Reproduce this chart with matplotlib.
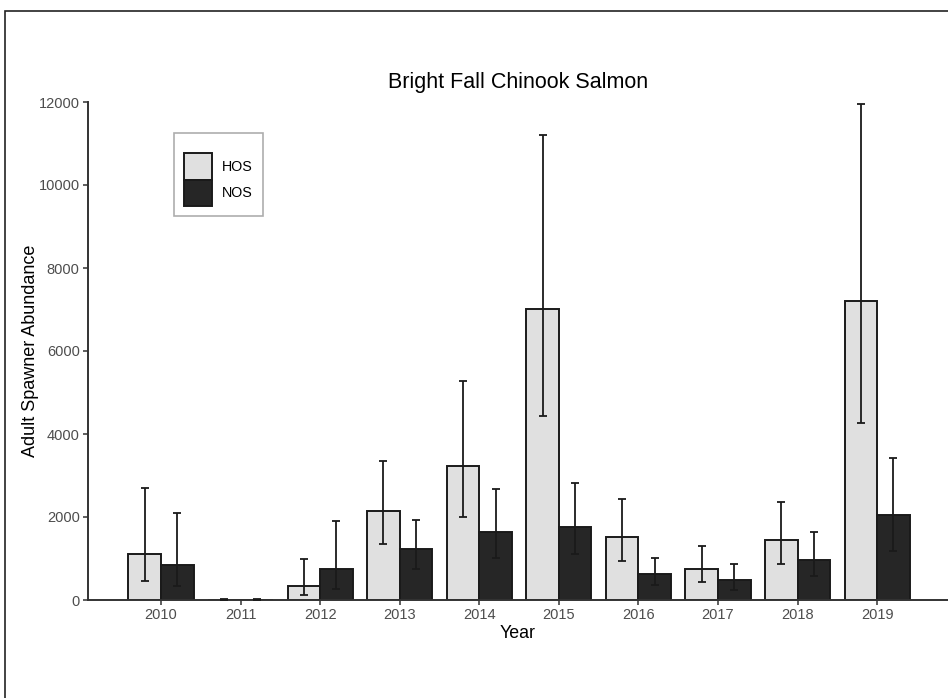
import numpy as np
import matplotlib.pyplot as plt
from matplotlib.patches import Rectangle

plt.rcParams['font.family'] = ['Liberation Sans', 'DejaVu Sans']

########################################################################
# Data

years = ["2010", "2011", "2012", "2013", "2014", "2015", "2016", "2017", "2018", "2019"]

hos = [1113, 10, 344, 2139, 3228, 7012, 1530, 745, 1434, 7198]
hos_lo = [450, 5, 113, 1346, 2012, 4430, 937, 425, 873, 4271]
hos_hi = [2692, 15, 978, 3349, 5277, 11205, 2444, 1290, 2372, 11945]

nos = [841, 10, 745, 1226, 1642, 1763, 625, 481, 970, 2051]
nos_lo = [336, 5, 264, 745, 1002, 1106, 369, 240, 585, 1185]
nos_hi = [2108, 15, 1899, 1930, 2685, 2820, 1002, 857, 1635, 3430]

########################################################################
# Plot

fig = plt.figure(figsize=(9.48, 6.98), dpi=100)
ax = fig.add_axes([88 / 948, 1 - 600 / 698, 1 - 88 / 948, (600 - 102) / 698])

x = np.arange(len(years))
w = 0.41
grey_text = "#4d4d4d"

for vals, lo, hi, off, col, lab in [
    (hos, hos_lo, hos_hi, -w / 2, "#e0e0e0", "HOS"),
    (nos, nos_lo, nos_hi, w / 2, "#262626", "NOS"),
]:
    vals = np.array(vals)
    ax.bar(x + off, vals, width=w, color=col, edgecolor="#1a1a1a", linewidth=1.4, label=lab, zorder=2)
    yerr = [vals - np.array(lo), np.array(hi) - vals]
    ax.errorbar(x + off, vals, yerr=yerr, fmt="none", ecolor="#1a1a1a", elinewidth=1.3,
                capsize=2.7, capthick=1.3, zorder=3)

ax.set_xlim(-0.917, 9.89)
ax.set_ylim(0, 12000)
ax.set_xticks(x)
ax.set_xticklabels(years)
ax.set_yticks(np.arange(0, 12001, 2000))

for s in ["top", "right"]:
    ax.spines[s].set_visible(False)
for s in ["left", "bottom"]:
    ax.spines[s].set_color("#333333")
    ax.spines[s].set_linewidth(1.4)
ax.tick_params(colors="#333333", labelcolor=grey_text, labelsize=10.5, length=3.5, width=1.1, pad=2.5)

ax.set_title("Bright Fall Chinook Salmon", fontsize=15.5, pad=10)
ax.set_xlabel("Year", fontsize=12.8, labelpad=2)
ax.set_ylabel("Adult Spawner Abundance", fontsize=13, labelpad=-0.5)

leg = ax.legend(loc="upper left", bbox_to_anchor=(0.1, 0.938), bbox_transform=ax.transAxes,
                fontsize=10.3, frameon=True, fancybox=False, title=" ", title_fontsize=7,
                borderpad=0.7, handlelength=1.96, handleheight=2.5, labelspacing=0.0,
                handletextpad=0.7, borderaxespad=0.0)
leg.get_frame().set_edgecolor("#999999")
leg.get_frame().set_linewidth(1.2)

# outer frame around the picture
fig.patches.append(Rectangle((5 / 948, -0.5), 2, 1.5 - 11 / 698, transform=fig.transFigure,
                             fill=False, edgecolor="#222222", linewidth=1.2))

fig.savefig("out.png", dpi=100)
